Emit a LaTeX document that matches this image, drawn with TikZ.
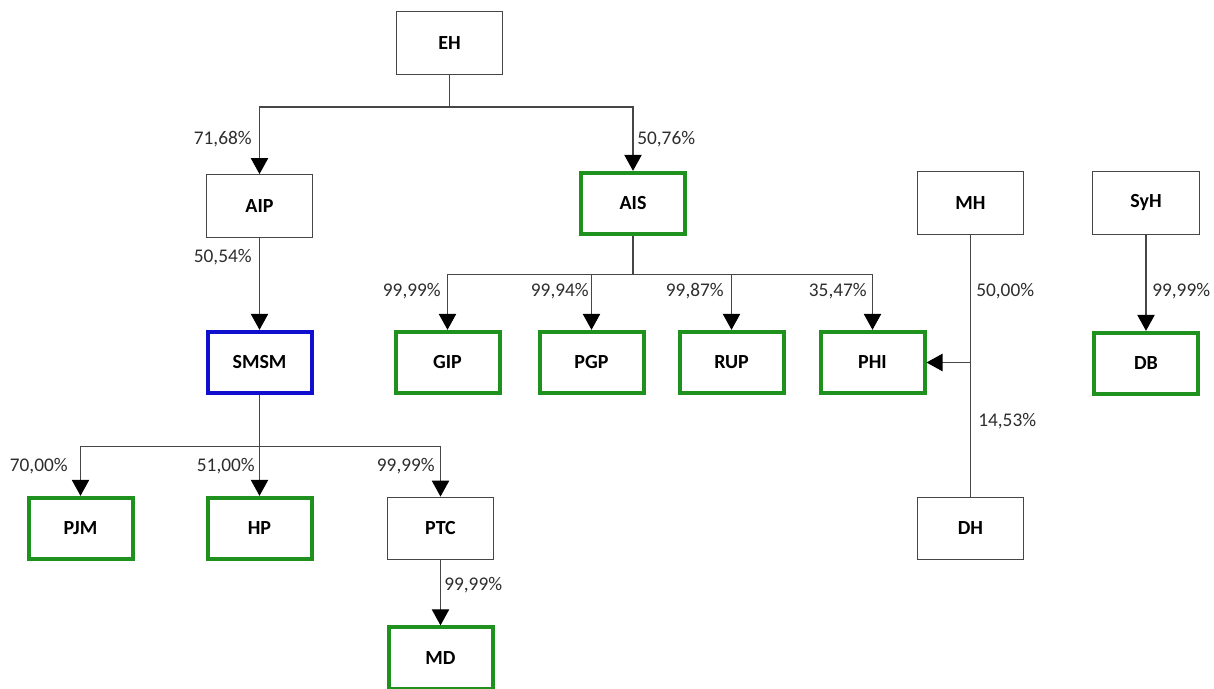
\documentclass[tikz,border=0pt]{standalone}
\usepackage{fontspec}
\setmainfont{Carlito}
\usetikzlibrary{arrows.meta}
\definecolor{owngreen}{RGB}{30,145,30}
\definecolor{ctrlblue}{RGB}{15,15,205}
\definecolor{linegrey}{RGB}{70,70,70}
\definecolor{textgrey}{RGB}{45,45,45}
\begin{document}
\begin{tikzpicture}[
	                  x = 0.75pt,
	                  y = -0.75pt,
	          box/.style = {draw=linegrey, line width=0.9pt, fill=white, minimum width=80pt, minimum height=47pt, inner sep=0pt, font=\fontsize{15}{18}\selectfont\bfseries},
	       ownbox/.style = {box, draw=owngreen, line width=3pt, minimum width=78pt, minimum height=46pt},
	      ctrlbox/.style = {box, draw=ctrlblue, line width=3pt, minimum width=78pt, minimum height=46pt},
	         link/.style = {draw=linegrey, line width=0.9pt},
	          arr/.style = {link, -{Triangle[width=13pt,length=12pt,color=black]}},
	        share/.style = {inner sep=0pt, text=textgrey, font=\fontsize{14.5}{17}\selectfont},
	                     ]
	    \useasboundingbox (0,0) rectangle (1214,689);
		% holdings
		\node[box] (EH) at (449.5,43) {EH};
		\node[box] (AIP) at (259.5,206) {AIP};
		\node[ownbox] (AIS) at (633,203.5) {AIS};
		\node[box] (MH) at (970.5,203) {MH};
		\node[box] (SyH) at (1146,203) {SyH};
		% second level
		\node[ctrlbox] (SMSM) at (259.5,362.5) {SMSM};
		\node[ownbox] (GIP) at (447.5,362.5) {GIP};
		\node[ownbox] (PGP) at (591.5,362.5) {PGP};
		\node[ownbox] (RUP) at (731.5,362.5) {RUP};
		\node[ownbox] (PHI) at (872.5,362.5) {PHI};
		\node[ownbox] (DB) at (1146,363.5) {DB};
		% third level
		\node[ownbox] (PJM) at (80.5,528.5) {PJM};
		\node[ownbox] (HP) at (259.5,528.5) {HP};
		\node[box] (PTC) at (440.5,528.5) {PTC};
		\node[box] (DH) at (970.5,528.5) {DH};
		\node[ownbox] (MD) at (440.5,658) {MD};
		% connectors
		\draw[link] (EH.south) -- ++(0,32) coordinate (EHbus);
		\draw[arr] (EHbus) -| (AIP.north);
		\draw[arr] (EHbus) -| (AIS.north);
		\draw[arr] (AIP) -- (SMSM);
		\draw[link] (AIS.south) -- ++(0,38) coordinate (AISbus);
		\draw[arr] (AISbus) -| (GIP.north);
		\draw[arr] (AISbus) -| (PGP.north);
		\draw[arr] (AISbus) -| (RUP.north);
		\draw[arr] (AISbus) -| (PHI.north);
		\draw[link] (SMSM.south) -- ++(0,51) coordinate (SMSMbus);
		\draw[arr] (SMSMbus) -| (PJM.north);
		\draw[arr] (SMSMbus) -| (HP.north);
		\draw[arr] (SMSMbus) -| (PTC.north);
		\draw[arr] (PTC) -- (MD);
		\draw[link] (MH) -- (DH);
		\draw[arr] (MH.south |- PHI.east) -- (PHI.east);
		\draw[arr] (SyH) -- (DB);
		% shares
		\node[share, anchor=east] (sAIP) at (252,139) {71,68\%};
		\node[share, anchor=west] (sAIS) at (637,139) {50,76\%};
		\node[share, anchor=east] (sSMSM) at (252,257) {50,54\%};
		\node[share, anchor=east] (sGIP) at (441,291) {99,99\%};
		\node[share, anchor=east] (sPGP) at (589,291) {99,94\%};
		\node[share, anchor=east] (sRUP) at (724,291) {99,87\%};
		\node[share, anchor=east] (sPHI) at (867,291) {35,47\%};
		\node[share, anchor=west] (sMH) at (976,291) {50,00\%};
		\node[share, anchor=west] (sDH) at (978,421) {14,53\%};
		\node[share, anchor=west] (sDB) at (1152,291) {99,99\%};
		\node[share, anchor=east] (sPJM) at (68,466) {70,00\%};
		\node[share, anchor=east] (sHP) at (255,466) {51,00\%};
		\node[share, anchor=east] (sPTC) at (435,466) {99,99\%};
		\node[share, anchor=west] (sMD) at (444,585) {99,99\%};
	\end{tikzpicture}
\end{document}
